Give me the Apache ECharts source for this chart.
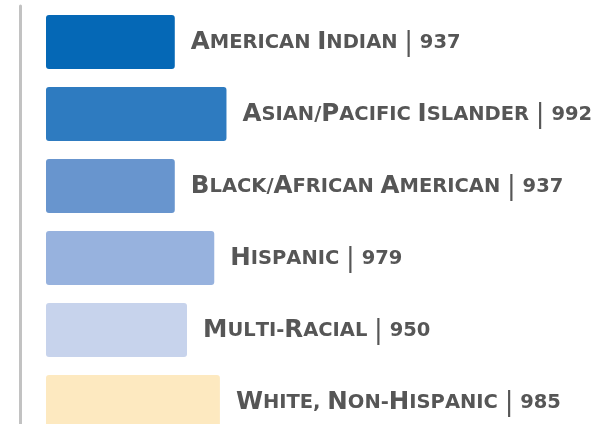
<!DOCTYPE html>
<html>
<head>
<meta charset="utf-8">
<script src="https://cdn.jsdelivr.net/npm/echarts@6/dist/echarts.min.js"></script>
<style>
  html, body { margin: 0; padding: 0; background: #fff; }
  #chart { width: 595px; height: 424px; }
</style>
</head>
<body>
<div id="chart"></div>
<script>
// data
const categories = ['American Indian', 'Asian/Pacific Islander', 'Black/African American', 'Hispanic', 'Multi-Racial', 'White, Non-Hispanic'];
const values = [937, 992, 937, 979, 950, 985];
const barColors = ['#0568b6', '#2e7bc0', '#6895ce', '#97b2de', '#c7d3ec', '#fde9c0'];

// small caps by rich text: capitals big, the rest as small capitals
const smallCaps = (name) => {
    return name.split(' ').map(word => {
        let out = '';
        for (const ch of word) {
            if (/[A-Z]/.test(ch)) {
                out += '{a|' + ch + '}';
            } else {
                out += '{b|' + ch.toUpperCase() + '}';
            }
        }
        return out;
    }).join('{b| }');
};

const chart = echarts.init(document.getElementById('chart'));

const option = {
    animation: false,
    grid: { left: 46, right: 79, top: 6, bottom: -14, outerBoundsMode: 'none' },
    xAxis: {
        type: 'value',
        min: 800,
        max: 1300,
        show: false
    },
    yAxis: {
        type: 'category',
        inverse: true,
        data: categories,
        offset: 26,
        axisLine: { show: true, lineStyle: { color: '#c2c2c2', width: 3 } },
        axisTick: { show: false },
        axisLabel: { show: false }
    },
    series: [{
        type: 'bar',
        barCategoryGap: '25%',
        data: values.map((v, i) => ({
            value: v,
            itemStyle: { color: barColors[i], borderRadius: 3 }
        })),
        label: {
            show: true,
            position: 'right',
            distance: 16,
            offset: [0, 1],
            formatter: (p) => smallCaps(p.name) + '{b| }{c||}{b| ' + p.value + '}',
            rich: {
                a: { fontFamily: 'DejaVu Sans', fontWeight: 'bold', fontSize: 24.5, color: '#565656' },
                b: { fontFamily: 'DejaVu Sans', fontWeight: 'bold', fontSize: 19.5, color: '#565656' },
                c: { fontFamily: 'DejaVu Sans', fontWeight: 'normal', fontSize: 26, color: '#565656' }
            }
        }
    }]
};

chart.setOption(option);
</script>
</body>
</html>
